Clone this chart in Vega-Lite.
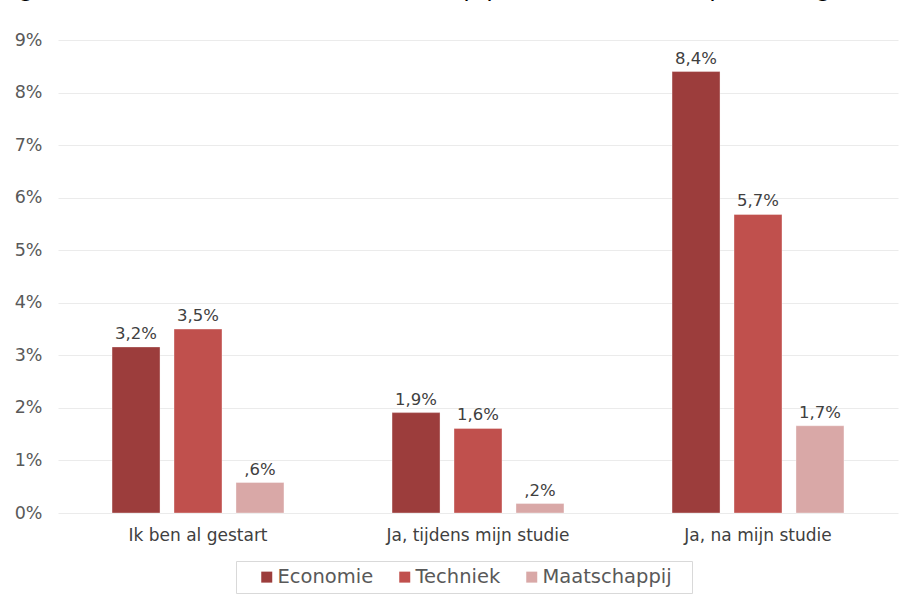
{
  "$schema": "https://vega.github.io/schema/vega-lite/v6.json",
  "width": 840,
  "height": 473,
  "autosize": {"type": "none"},
  "padding": {"left": 58, "top": 40, "right": 6, "bottom": 81},
  "background": "white",
  "config": {"view": {"stroke": null}},
  "title": {
    "text": "Figuur 3: Interesse in ondernemerschap per domein 2016 (percentages)",
    "anchor": "start",
    "frame": "group",
    "baseline": "alphabetic",
    "offset": 23,
    "dx": -58,
    "dy": 12,
    "fontSize": 24,
    "fontWeight": "normal",
    "font": "DejaVu Sans",
    "color": "#000000"
  },
  "data": {
    "values": [
      {"categorie": "Ik ben al gestart", "domein": "Economie", "waarde": 3.16, "label": "3,2%"},
      {"categorie": "Ik ben al gestart", "domein": "Techniek", "waarde": 3.5, "label": "3,5%"},
      {"categorie": "Ik ben al gestart", "domein": "Maatschappij", "waarde": 0.58, "label": ",6%"},
      {"categorie": "Ja, tijdens mijn studie", "domein": "Economie", "waarde": 1.91, "label": "1,9%"},
      {"categorie": "Ja, tijdens mijn studie", "domein": "Techniek", "waarde": 1.61, "label": "1,6%"},
      {"categorie": "Ja, tijdens mijn studie", "domein": "Maatschappij", "waarde": 0.18, "label": ",2%"},
      {"categorie": "Ja, na mijn studie", "domein": "Economie", "waarde": 8.4, "label": "8,4%"},
      {"categorie": "Ja, na mijn studie", "domein": "Techniek", "waarde": 5.68, "label": "5,7%"},
      {"categorie": "Ja, na mijn studie", "domein": "Maatschappij", "waarde": 1.66, "label": "1,7%"}
    ]
  },
  "encoding": {
    "x": {
      "field": "categorie",
      "type": "nominal",
      "sort": ["Ik ben al gestart", "Ja, tijdens mijn studie", "Ja, na mijn studie"],
      "scale": {"paddingInner": 0.386, "paddingOuter": 0.193},
      "axis": {
        "title": null,
        "labelAngle": 0,
        "ticks": false,
        "domain": false,
        "labelPadding": 14,
        "labelLimit": 400,
        "labelFontSize": 17,
        "labelFont": "DejaVu Sans",
        "labelColor": "#404040"
      }
    },
    "xOffset": {
      "field": "domein",
      "type": "nominal",
      "sort": ["Economie", "Techniek", "Maatschappij"],
      "scale": {"paddingInner": 0.226, "paddingOuter": 0}
    },
    "y": {
      "field": "waarde",
      "type": "quantitative",
      "scale": {"domain": [0, 9], "nice": false},
      "axis": {
        "title": null,
        "values": [0, 1, 2, 3, 4, 5, 6, 7, 8, 9],
        "labelExpr": "datum.value + '%'",
        "ticks": false,
        "domain": false,
        "labelPadding": 16,
        "labelFontSize": 17.5,
        "labelFont": "DejaVu Sans",
        "labelColor": "#595959",
        "gridColor": "#EBEBEB",
        "gridWidth": 1
      }
    }
  },
  "layer": [
    {
      "mark": {"type": "bar", "stroke": "#ffffff", "strokeOpacity": 0.35, "strokeWidth": 1},
      "encoding": {
        "color": {
          "field": "domein",
          "type": "nominal",
          "sort": ["Economie", "Techniek", "Maatschappij"],
          "scale": {
            "domain": ["Economie", "Techniek", "Maatschappij"],
            "range": ["#9C3D3C", "#C0504D", "#D9A8A7"]
          },
          "legend": {
            "title": " ",
            "titleOrient": "left",
            "titlePadding": 15,
            "titleFontSize": 11,
            "orient": "none",
            "direction": "horizontal",
            "legendX": 178,
            "legendY": 521,
            "symbolType": "square",
            "symbolSize": 121,
            "symbolStrokeWidth": 0,
            "labelFontSize": 19.5,
            "labelFont": "DejaVu Sans",
            "labelColor": "#595959",
            "labelOffset": 1,
            "labelExpr": "datum.label == 'Maatschappij' ? datum.label + '\u2800' : datum.label",
            "columnPadding": 21,
            "strokeColor": "#D9D9D9",
            "padding": 6,
            "offset": 0
          }
        }
      }
    },
    {
      "mark": {"type": "text", "baseline": "bottom", "dy": -5, "fontSize": 16.5, "font": "DejaVu Sans", "color": "#404040"},
      "encoding": {
        "text": {"field": "label", "type": "nominal"}
      }
    }
  ]
}
